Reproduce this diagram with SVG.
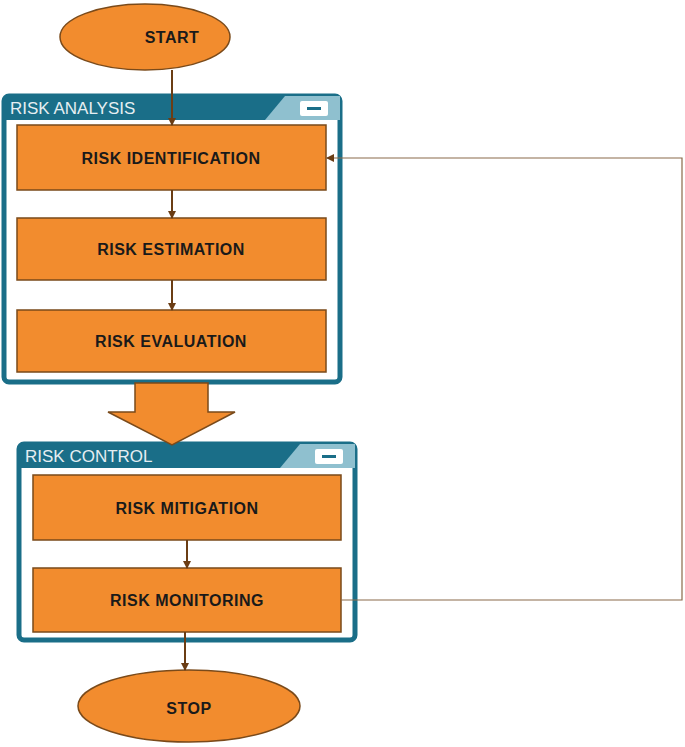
<svg xmlns="http://www.w3.org/2000/svg" width="685" height="747" viewBox="0 0 685 747">
<style>
.box{fill:#f28c2e;stroke:#7a4a1a;stroke-width:1.5}
.t{font-family:"Liberation Sans",Arial,sans-serif;font-size:16px;font-weight:bold;fill:#1a1a1a;text-anchor:middle;dominant-baseline:central;letter-spacing:0.5px}
.h{font-family:"Liberation Sans",Arial,sans-serif;font-size:17px;fill:#e6eef2}
.panel{fill:#ffffff;stroke:#1a6e88;stroke-width:5}
.con{stroke:#6b3d14;stroke-width:2;fill:none}
</style>
<defs>
<marker id="ah" markerWidth="8" markerHeight="8" refX="7" refY="4" orient="auto" markerUnits="userSpaceOnUse"><path d="M0,0 L8,4 L0,8 z" fill="#6b3d14"/></marker>
</defs>
<rect width="685" height="747" fill="#fff"/>
<g id="start"><ellipse cx="145" cy="37" rx="85" ry="33" class="box"/><text x="172" y="37" class="t">START</text></g>
<g id="risk-analysis">
<rect x="4" y="96" width="336" height="286" rx="5" class="panel"/>
<rect x="4" y="96" width="336" height="24" fill="#1a6e88"/>
<path d="M265,120 L285,96 L340,96 L340,120 z" fill="#8fc0cf"/>
<rect x="300" y="101" width="28" height="15" rx="2" fill="#fff"/><rect x="307" y="107" width="14" height="3" fill="#1a6e88"/>
<text x="10" y="114" class="h">RISK ANALYSIS</text>
</g>
<g id="risk-control">
<rect x="19" y="444" width="336" height="196" rx="5" class="panel"/>
<rect x="19" y="444" width="336" height="24" fill="#1a6e88"/>
<path d="M280,468 L300,444 L355,444 L355,468 z" fill="#8fc0cf"/>
<rect x="315" y="449" width="28" height="15" rx="2" fill="#fff"/><rect x="322" y="455" width="14" height="3" fill="#1a6e88"/>
<text x="25" y="462" class="h">RISK CONTROL</text>
</g>
<g id="risk-identification"><rect x="17" y="125" width="309" height="65" class="box"/><text x="171" y="158" class="t">RISK IDENTIFICATION</text></g>
<g id="risk-estimation"><rect x="17" y="218" width="309" height="62" class="box"/><text x="171" y="249" class="t">RISK ESTIMATION</text></g>
<g id="risk-evaluation"><rect x="17" y="310" width="309" height="62" class="box"/><text x="171" y="341" class="t">RISK EVALUATION</text></g>
<g id="big-arrow"><path d="M135,383 L208,383 L208,412 L235,412 L172,445 L108,412 L135,412 z" class="box"/></g>
<g id="risk-mitigation"><rect x="33" y="475" width="308" height="65" class="box"/><text x="187" y="508" class="t">RISK MITIGATION</text></g>
<g id="risk-monitoring"><rect x="33" y="568" width="308" height="64" class="box"/><text x="187" y="600" class="t">RISK MONITORING</text></g>
<g id="stop"><ellipse cx="189" cy="706" rx="111" ry="36" class="box"/><text x="189" y="708" class="t">STOP</text></g>
<g id="connectors">
<line x1="172" y1="70" x2="172" y2="125" class="con" marker-end="url(#ah)"/>
<line x1="172" y1="190" x2="172" y2="218" class="con" marker-end="url(#ah)"/>
<line x1="172" y1="280" x2="172" y2="310" class="con" marker-end="url(#ah)"/>
<line x1="187" y1="540" x2="187" y2="568" class="con" marker-end="url(#ah)"/>
<line x1="185" y1="632" x2="185" y2="670" class="con" marker-end="url(#ah)"/>
<path d="M341,600 L682,600 L682,158 L327,158" stroke="#8a6a4a" stroke-width="1.2" fill="none" marker-end="url(#ah)"/>
</g>
</svg>
